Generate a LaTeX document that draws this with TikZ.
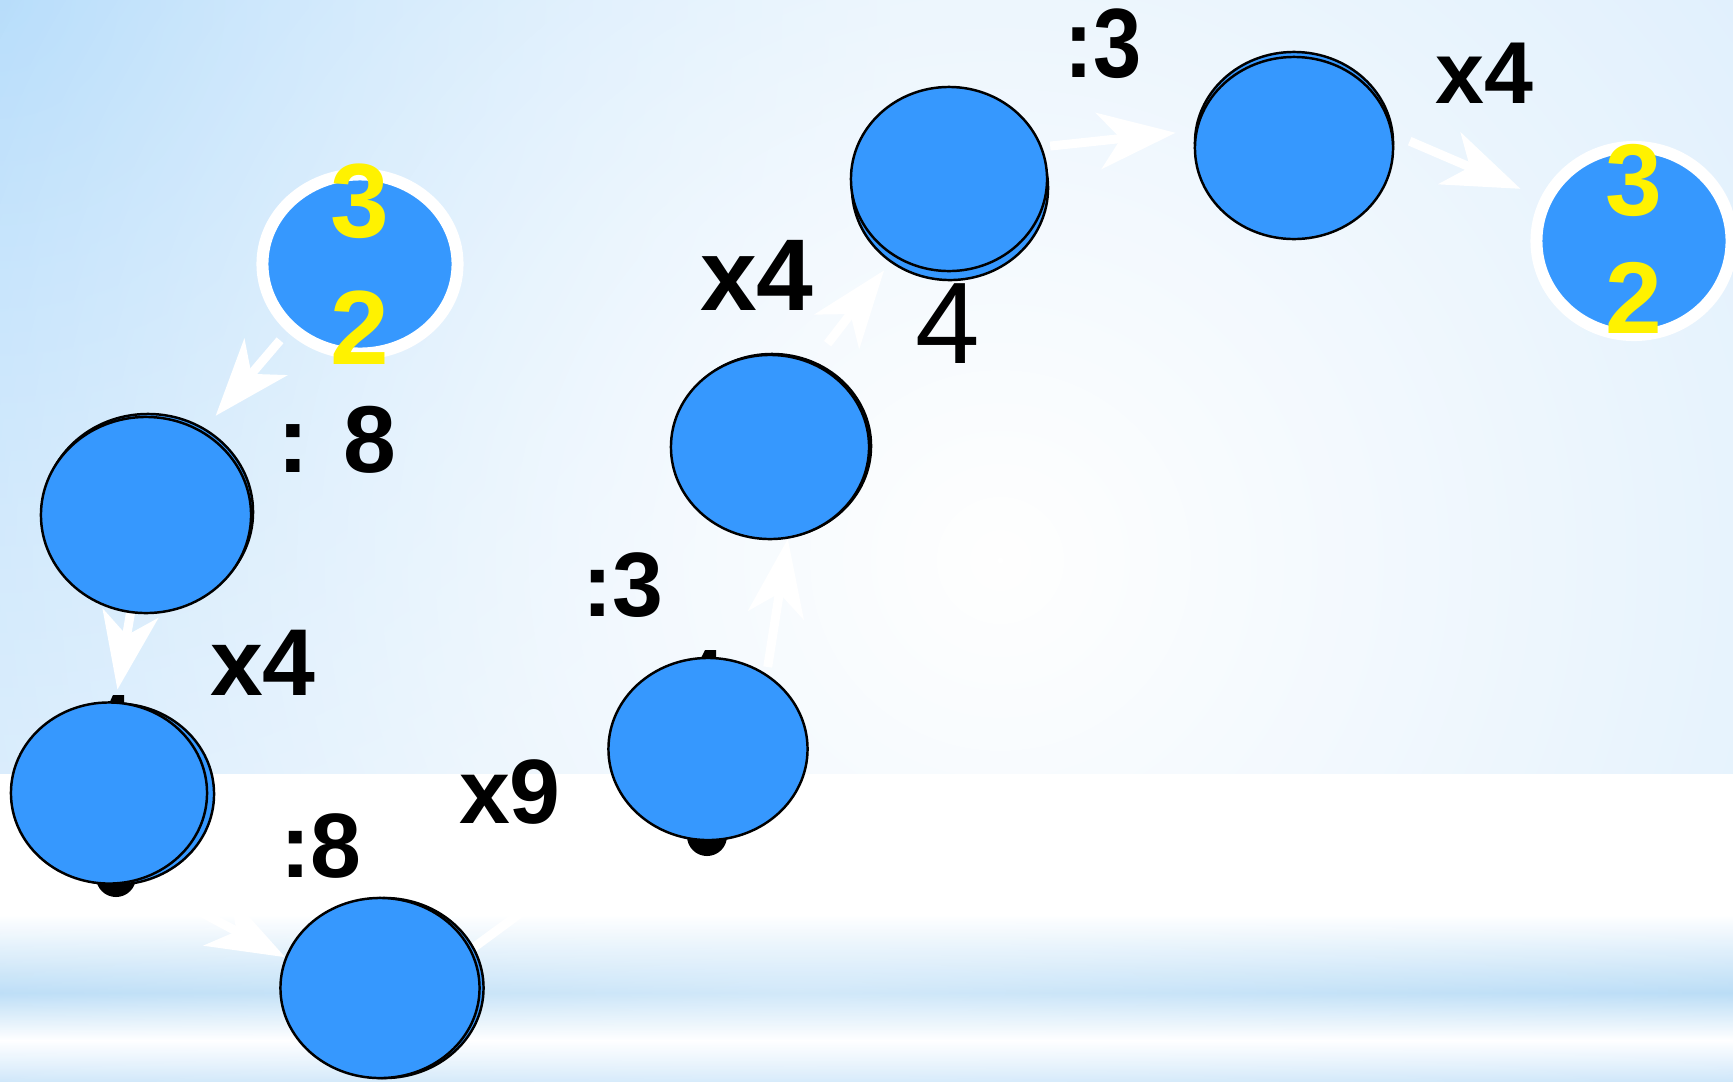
\documentclass[tikz,border=0pt]{standalone}
\usepackage{fontspec}
\setmainfont{Liberation Sans}
\usetikzlibrary{shapes.geometric,arrows.meta,shadows,fadings}
\definecolor{cdisc}{RGB}{54,152,254}
\definecolor{csky}{RGB}{210,233,252}
\definecolor{ccorner}{RGB}{168,214,250}
\definecolor{cband}{RGB}{180,218,246}
\definecolor{clow}{RGB}{205,230,250}
\pgfdeclarelayer{backdrop}
\pgfdeclarelayer{links}
\pgfsetlayers{backdrop,links,main}
\tikzfading[name=glowfade,inner color=transparent!0,outer color=transparent!100]
\tikzset{
  slide/.style={x=0.01cm,y=-0.01cm},
  disc/.style={ellipse,draw=black,fill=cdisc,line width=0.7pt,inner sep=0pt},
  ringdisc/.style={ellipse,draw=white,fill=cdisc,line width=0.12cm,inner sep=0pt},
  twin/.style 2 args={general shadow={fill=cdisc,draw=black,line width=0.7pt,shadow xshift=#1,shadow yshift=#2}},
  trail/.style={draw=white,line width=0.09cm,-{Stealth[length=0.77cm,width=0.56cm,inset=0.22cm]}},
  lbl/.style={font=\bfseries\fontsize{#1}{#1}\selectfont,inner sep=0pt},
  lbl/.default=27,
  ydigit/.style={font=\bfseries\fontsize{#1}{#1}\selectfont,text=yellow,inner sep=0pt},
  ydigit/.default=30
}
\begin{document}
\begin{tikzpicture}[slide]
  \useasboundingbox (0,0) rectangle (1733,1081);
  % slide background
  \begin{pgfonlayer}{backdrop}
    \fill[csky] (0,0) rectangle (1733,774);
    \begin{scope}
      \clip (0,0) rectangle (1733,774);
      \shade[inner color=ccorner,outer color=csky] (0,0) circle (9cm);
      \fill[white,path fading=glowfade,fit fading=true] (1000,560) circle (14cm);
    \end{scope}
    \fill[white] (0,774) rectangle (1733,1081);
    \shade[top color=white,bottom color=cband] (0,915) rectangle (1733,993);
    \shade[top color=cband,bottom color=white] (0,993) rectangle (1733,1040);
    \shade[top color=white,bottom color=clow] (0,1040) rectangle (1733,1081);
    \fill[white,opacity=0.4,path fading=glowfade,fit fading=true] (800,990) ellipse (12cm and 2cm);
  \end{pgfonlayer}
  % discs
  \node[ringdisc,minimum width=1.95cm,minimum height=1.79cm] (A) at (360,264) {};
  \node[disc,minimum width=2.10cm,minimum height=1.96cm,twin={0.02cm}{0.03cm}] (B) at (146,515) {};
  \node[disc,minimum width=1.96cm,minimum height=1.81cm,twin={0.07cm}{-0.01cm}] (C) at (109,793) {};
  \node[disc,minimum width=1.99cm,minimum height=1.80cm,twin={0.04cm}{0cm}] (D) at (380,988) {};
  \node[disc,minimum width=1.99cm,minimum height=1.82cm] (E) at (708,749) {};
  \node[disc,minimum width=1.98cm,minimum height=1.84cm,twin={0.02cm}{0.01cm}] (F) at (770,447) {};
  \node[disc,minimum width=1.96cm,minimum height=1.84cm,twin={0.01cm}{-0.09cm}] (G) at (949,179) {};
  \node[disc,minimum width=1.98cm,minimum height=1.82cm,twin={0cm}{0.05cm}] (H) at (1294,148) {};
  \node[ringdisc,minimum width=1.95cm,minimum height=1.88cm] (I) at (1634,241) {};
  % white arrows, under the discs
  \begin{pgfonlayer}{links}
    \draw[trail,shorten <=0.11cm,shorten >=0.2cm] (A.223) -- (B.56);
    \draw[trail,shorten >=0.12cm] (B.261) -- (C.86);
    \draw[trail] (C.290) -- (D.162);
    \draw[trail,shorten >=0.1cm] (D.23) -- (E.229);
    \draw[trail,shorten <=0.07cm] (E.52) -- (F.281);
    \draw[trail,shorten <=0.24cm,shorten >=0.17cm] (F.63) -- (G.235);
    \draw[trail,shorten <=0.08cm,shorten >=0.2cm] (G.19) -- (H.170);
    \draw[trail,shorten <=0.18cm,shorten >=0.22cm] (H.8) -- (I.155);
    % black bits peeking out behind C and E
    \fill (116,877) circle (0.2cm);
    \fill (108,706) -- (113,695) -- (124,695) -- (124,706) -- cycle;
    \fill (707,836) circle (0.2cm);
    \fill (699,662) -- (705,650) -- (716,650) -- (716,662) -- cycle;
  \end{pgfonlayer}
  % yellow digits in the ringed discs
  \node[ydigit] (A3) at ([yshift=0.625cm]A.center) {3};
  \node[ydigit] (A2) at ([yshift=-0.64cm]A.center) {2};
  \node[ydigit=29] (I3) at ([yshift=0.61cm]I.center) {3};
  \node[ydigit=29] (I2) at ([yshift=-0.57cm]I.center) {2};
  % step labels
  \node[lbl] (l1) at (337,440) {: 8};
  \node[lbl] (l2) at (263,663) {x4};
  \node[lbl=26] (l3) at (321,846) {:8};
  \node[lbl=26] (l4) at (510,792) {x9};
  \node[lbl=26] (l5) at (623,585) {:3};
  \node[lbl=29] (l6) at (757,275) {x4};
  \node[font=\fontsize{33}{33}\selectfont,inner sep=0pt] (l7) at (948,324) {4};
  \node[lbl=28] (l8) at (1103,44) {\scalebox{0.88}[1]{:3}};
  \node[lbl=25] (l9) at (1484,73) {x4};
\end{tikzpicture}
\end{document}
